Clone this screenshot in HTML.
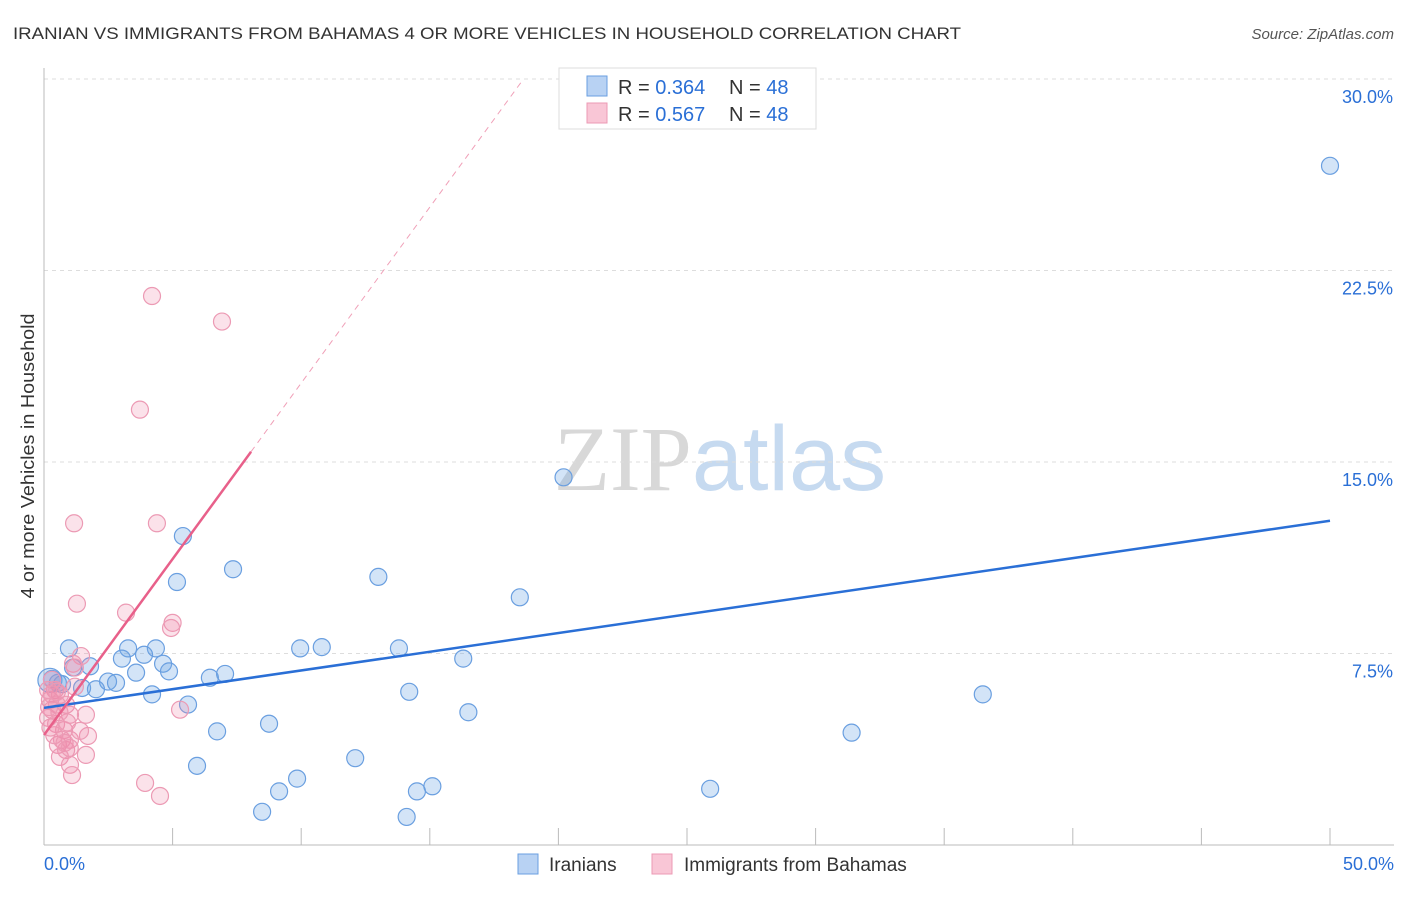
<!DOCTYPE html>
<html><head><meta charset="utf-8"><style>
body{margin:0;background:#fff;font-family:"Liberation Sans",sans-serif;}
</style></head><body>
<svg id="chart" width="1406" height="892" xmlns="http://www.w3.org/2000/svg" font-family="Liberation Sans, sans-serif">
<text x="13" y="39" font-size="17" fill="#333" textLength="948" lengthAdjust="spacingAndGlyphs">IRANIAN VS IMMIGRANTS FROM BAHAMAS 4 OR MORE VEHICLES IN HOUSEHOLD CORRELATION CHART</text>
<text x="1394" y="39" font-size="15" fill="#555" text-anchor="end" font-style="italic">Source: ZipAtlas.com</text>
<text transform="translate(34,456) rotate(-90)" font-size="18" fill="#333" text-anchor="middle" textLength="285" lengthAdjust="spacingAndGlyphs">4 or more Vehicles in Household</text>
<text x="720" y="490" font-size="92" text-anchor="middle"><tspan fill="#d8d8d8" font-family="Liberation Serif, serif">ZIP</tspan><tspan fill="#c6daf0">atlas</tspan></text>
<g id="grid"></g><g id="axes"></g><g id="marks"></g>
<g>
<rect x="559" y="68" width="257" height="61" fill="#fff" stroke="#ddd"/>
<rect x="587" y="76" width="20" height="20" fill="#b8d2f3" stroke="#6a9fe0"/>
<text x="618" y="94" font-size="20" fill="#333">R = <tspan fill="#2a6fd6">0.364</tspan></text>
<text x="729" y="94" font-size="20" fill="#333">N = <tspan fill="#2a6fd6">48</tspan></text>
<rect x="587" y="103" width="20" height="20" fill="#f9c6d6" stroke="#ec9ab4"/>
<text x="618" y="121" font-size="20" fill="#333">R = <tspan fill="#2a6fd6">0.567</tspan></text>
<text x="729" y="121" font-size="20" fill="#333">N = <tspan fill="#2a6fd6">48</tspan></text>
</g>
<g>
<rect x="518" y="854" width="20" height="20" fill="#b8d2f3" stroke="#6a9fe0"/>
<text x="549" y="871" font-size="19" fill="#333">Iranians</text>
<rect x="652" y="854" width="20" height="20" fill="#f9c6d6" stroke="#ec9ab4"/>
<text x="684" y="871" font-size="19" fill="#333">Immigrants from Bahamas</text>
</g>
</svg>
<script>
const yTicks=[7.5,15.0,22.5,30.0];
const xTickVals=[0,5,10,15,20,25,30,35,40,45,50];
const blueX=[50.0,20.2,5.4,7.35,5.17,13.0,18.5,0.97,3.27,4.35,3.89,3.03,4.63,1.79,4.86,3.58,6.45,7.04,9.96,10.8,13.8,16.3,2.49,2.8,1.48,2.02,0.54,0.31,4.2,5.6,14.2,36.5,16.5,6.73,8.75,31.4,12.1,5.95,9.84,9.14,15.1,14.5,25.9,8.48,14.1,0.23,0.7,1.13];
const blueY=[26.6,14.4,12.1,10.8,10.3,10.5,9.7,7.7,7.7,7.7,7.45,7.3,7.1,7.0,6.8,6.75,6.55,6.7,7.7,7.75,7.7,7.3,6.4,6.35,6.15,6.1,6.35,6.5,5.9,5.5,6.0,5.9,5.2,4.45,4.75,4.4,3.4,3.1,2.6,2.1,2.3,2.1,2.2,1.3,1.1,6.45,6.3,6.95];
const pinkX=[4.2,6.92,3.73,1.17,4.39,1.28,3.19,5.0,4.94,1.44,1.13,1.2,5.29,0.43,0.23,0.31,0.16,0.47,0.62,0.86,1.01,0.78,1.63,0.54,0.7,0.86,1.01,1.71,1.4,0.62,1.01,1.09,1.63,3.93,4.51,0.31,0.16,0.5,0.9,0.3,1.2,0.6,0.4,0.2,0.8,1.0,0.5,0.25];
const pinkY=[21.5,20.5,17.05,12.6,12.6,9.45,9.1,8.7,8.5,7.4,7.1,6.95,5.3,6.07,5.68,5.29,4.98,4.74,5.88,5.49,5.1,4.5,5.1,3.92,4.12,3.72,4.12,4.27,4.47,3.45,3.14,2.74,3.53,2.43,1.92,6.47,6.07,5.5,4.8,5.9,6.2,5.2,4.3,5.4,4.0,3.8,6.0,4.6];
const blueTrend=[5.37,12.7];
const pinkTrend=[4.31,1.378];
const X0=44,X1=1330,Y0=845,PX=191.5/7.5;
const sx=v=>X0+(X1-X0)*v/50, sy=v=>Y0-v*PX;
const NS='http://www.w3.org/2000/svg';
function mk(p,t,a){const e=document.createElementNS(NS,t);for(const k in a)e.setAttribute(k,a[k]);p.appendChild(e);return e;}
const grid=document.getElementById('grid'),axes=document.getElementById('axes'),marks=document.getElementById('marks');
yTicks.forEach(v=>{
 const l=mk(grid,'line',{x1:X0,x2:1394,y1:sy(v),y2:sy(v),stroke:'#ddd','stroke-dasharray':'4,4'});
 
 
 const t=mk(axes,'text',{x:1393,y:sy(v)+24,'font-size':18,fill:'#2a6fd6','text-anchor':'end'});
 t.textContent=v.toFixed(1)+'%';
 
 
});
mk(axes,'line',{x1:X0,x2:X0,y1:68,y2:Y0,stroke:'#bbb'});
mk(axes,'line',{x1:X0,x2:1394,y1:Y0,y2:Y0,stroke:'#bbb'});
xTickVals.forEach(v=>{
 const l=mk(axes,'line',{x1:sx(v),x2:sx(v),y1:828,y2:Y0,stroke:'#bbb'});
 
 
});
[[0,'start',44],[50,'end',1394]].forEach(([v,a,x])=>{
 const t=mk(axes,'text',{x:x,y:870,'font-size':18,fill:'#2a6fd6','text-anchor':a});
 t.textContent=v.toFixed(1)+'%';
 
 
});
blueX.forEach((v,i)=>{
 const c=mk(marks,'circle',{cx:sx(v),cy:sy(blueY[i]),r:i==45?12:8.5,fill:'rgba(110,165,230,0.3)',stroke:'#6a9fe0','stroke-width':1.2});
 
 
});
pinkX.forEach((v,i)=>{
 const c=mk(marks,'circle',{cx:sx(v),cy:sy(pinkY[i]),r:8.5,fill:'rgba(240,140,170,0.25)',stroke:'#ec9ab4','stroke-width':1.2});
 
 
});
const bl=mk(marks,'line',{x1:sx(0),y1:sy(blueTrend[0]),x2:sx(50),y2:sy(blueTrend[1]),stroke:'#2a6fd6','stroke-width':2.5});


const xe=(30-pinkTrend[0])/pinkTrend[1];
const pd=mk(marks,'line',{x1:sx(8.05),y1:sy(pinkTrend[0]+pinkTrend[1]*8.05),x2:sx(xe),y2:sy(30),stroke:'#f0a0b8','stroke-width':1,'stroke-dasharray':'6,5'});


const pl=mk(marks,'line',{x1:sx(0),y1:sy(pinkTrend[0]),x2:sx(8.05),y2:sy(pinkTrend[0]+pinkTrend[1]*8.05),stroke:'#e8608a','stroke-width':2.5});


</script>
</body></html>
